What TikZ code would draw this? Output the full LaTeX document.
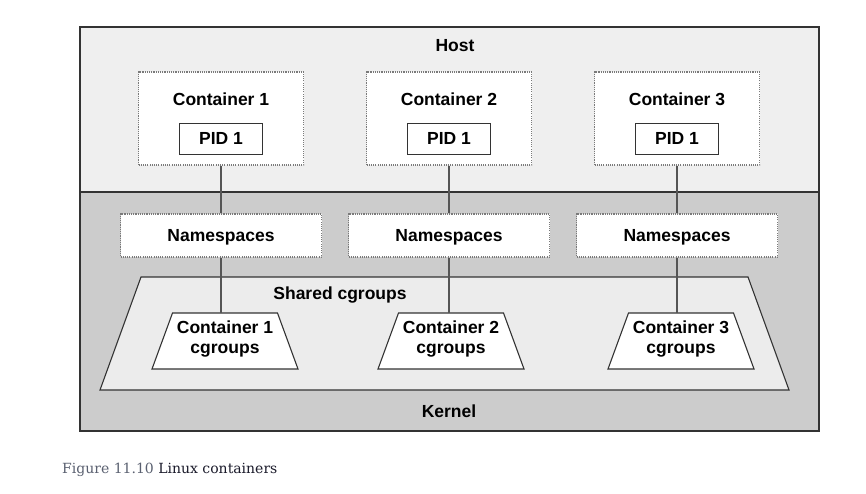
\documentclass[tikz,border=0pt]{standalone}
\usepackage{fontspec}
\setmainfont{Liberation Sans}
\newfontfamily\capfont{DejaVu Serif}
\definecolor{hostfill}{HTML}{EFEFEF}
\definecolor{kernfill}{HTML}{CCCCCC}
\definecolor{sharedfill}{HTML}{ECECEC}
\definecolor{edge}{HTML}{333333}
\definecolor{dotc}{HTML}{7A7A7A}
\definecolor{linkc}{HTML}{555555}
\definecolor{capgray}{HTML}{5A6070}
\definecolor{capdark}{HTML}{1A1A2A}
\tikzset{
  lbl/.style={font=\fontsize{17.5}{21}\selectfont\bfseries, text=black, align=center, inner sep=0pt},
  dotbox/.style={draw=dotc, fill=white, line width=1.1pt, dash pattern=on 1.1pt off 1.1pt, inner sep=0pt},
  pidbox/.style={draw=edge, fill=white, line width=1pt, minimum width=83pt, minimum height=31pt, inner sep=0pt, lbl},
  link/.style={draw=linkc, line width=1.4pt},
  panel/.style={draw=edge, line width=1.1pt}
}
\begin{document}
\begin{tikzpicture}[x=1pt,y=-1pt]
\useasboundingbox (0,0) rectangle (866,493);
% host and kernel
\draw[panel, fill=hostfill] (80,27) rectangle (819,192);
\draw[panel, fill=kernfill] (80,192) rectangle (819,431);
\node[lbl] (host) at (455,45.5) {Host};
\node[lbl] (kernel) at (449,411.5) {Kernel};
% shared cgroups
\draw[panel, fill=sharedfill] (141,277) -- (748,277) -- (789,390) -- (100,390) -- cycle;
\node[lbl, text depth=0pt] (shared) at (340,293) {Shared cgroups};
% columns
\foreach \i/\cx/\tx in {1/221/225, 2/449/451, 3/677/681}{
  \node[dotbox, minimum width=165pt, minimum height=93pt] (c\i) at (\cx,118.5) {};
  \node[lbl] (ct\i) at (\cx,99) {Container \i};
  \node[pidbox] (p\i) at (\cx,138.5) {PID 1};
  \node[dotbox, minimum width=201pt, minimum height=43pt, lbl, text depth=0pt] (ns\i) at (\cx,235.5) {Namespaces};
  \draw[panel, fill=white] (\tx-52.5,313) -- (\tx+52.5,313) -- (\tx+73,369) -- (\tx-73,369) -- cycle;
  \node[lbl, font=\fontsize{17.5}{20.5}\selectfont\bfseries] (cg\i) at (\tx,339) {Container \i\\cgroups};
  \coordinate (cgtop\i) at (\cx,313);
  \draw[link] (c\i.south) -- (ns\i.north);
  \draw[link] (ns\i.south) -- (cgtop\i);
}
% caption
\node[anchor=west, inner sep=0pt, font=\capfont\fontsize{14}{17}\selectfont] (cap) at (62,470) {\textcolor{capgray}{Figure 11.10} \textcolor{capdark}{Linux containers}};
\end{tikzpicture}
\end{document}
